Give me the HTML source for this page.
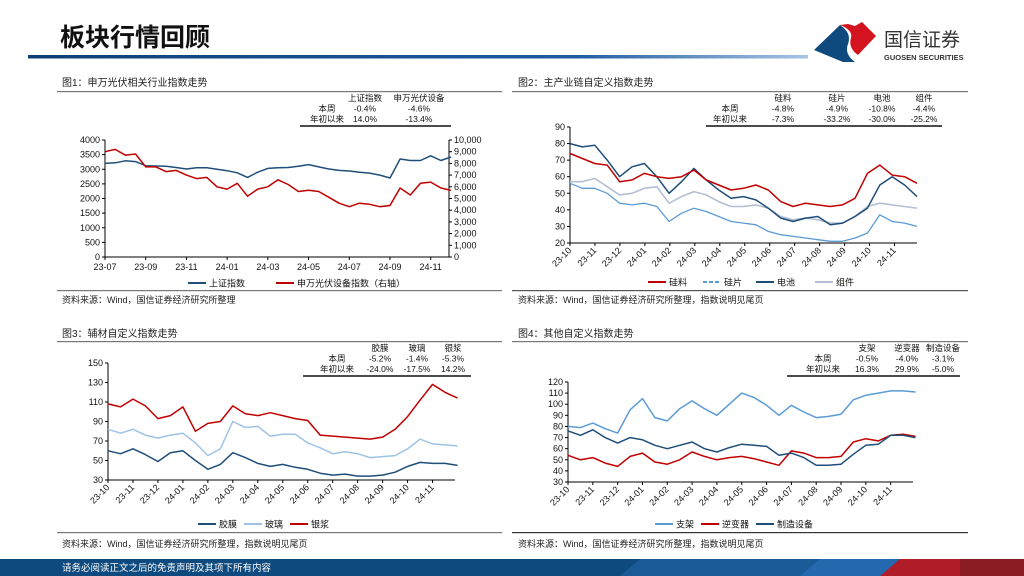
<!DOCTYPE html>
<html><head><meta charset="utf-8"><style>
html,body{margin:0;padding:0;background:#fff;}
svg{display:block;font-family:"Liberation Sans","Noto Sans CJK SC",sans-serif;}
</style></head><body>
<svg id="s" width="1024" height="576" viewBox="0 0 1024 576" xmlns="http://www.w3.org/2000/svg">
<defs>
<linearGradient id="bar" x1="0" x2="1"><stop offset="0" stop-color="#0c3f78"/><stop offset="0.7" stop-color="#1d5aa0"/><stop offset="1" stop-color="#a8c4e4"/></linearGradient>
</defs>
<text x="60" y="46" font-size="25" font-weight="bold" fill="#111">板块行情回顾</text>
<rect x="28" y="55" width="780" height="3.5" fill="url(#bar)"/>
<g>
<path d="M814 50 L840 25 Q852 33 848 44 Q844 54 855 62 L843 62 Z" fill="#0f4a7e"/>
<path d="M840 25 L848 24 L855 26 L862 22 L876 36 L858 55 Q848 48 851 38 Q853 30 840 25 Z" fill="#d3131f"/>
<text x="884" y="46" font-size="19" fill="#333">国信证券</text>
<text x="884" y="60" font-size="7.5" font-weight="bold" fill="#333">GUOSEN SECURITIES</text>
</g>
<text x="62" y="86" font-size="10" fill="#222">图1：申万光伏相关行业指数走势</text>
<text x="518" y="86" font-size="10" fill="#222">图2：主产业链自定义指数走势</text>
<text x="62" y="337" font-size="10" fill="#222">图3：辅材自定义指数走势</text>
<text x="518" y="337" font-size="10" fill="#222">图4：其他自定义指数走势</text>
<rect x="57" y="91" width="445" height="1.2" fill="#777"/>
<rect x="512" y="91" width="456" height="1.2" fill="#777"/>
<rect x="57" y="341" width="445" height="1.2" fill="#777"/>
<rect x="512" y="341" width="456" height="1.2" fill="#777"/>
<rect x="57" y="290" width="445" height="1.2" fill="#777"/>
<rect x="512" y="290" width="456" height="1.2" fill="#555"/>
<rect x="57" y="532" width="445" height="1.2" fill="#777"/>
<rect x="512" y="532" width="456" height="1.2" fill="#333"/>
<text x="62" y="303" font-size="9" fill="#222">资料来源：Wind，国信证券经济研究所整理</text>
<text x="518" y="303" font-size="9" fill="#222">资料来源：Wind，国信证券经济研究所整理，指数说明见尾页</text>
<text x="62" y="547" font-size="9" fill="#222">资料来源：Wind，国信证券经济研究所整理，指数说明见尾页</text>
<text x="518" y="547" font-size="9" fill="#222">资料来源：Wind，国信证券经济研究所整理，指数说明见尾页</text>
<g>
<rect x="0" y="559" width="1024" height="17" fill="#0f4a7e"/>
<path d="M640 559 L850 559 L830 576 L620 576 Z" fill="#1a5a96"/>
<path d="M820 559 L920 559 L900 576 L800 576 Z" fill="#2468b0"/>
<path d="M900 559 L1024 559 L1024 576 L880 576 Z" fill="#b01c28"/>
<path d="M960 559 L1024 559 L1024 576 L960 576 Z" fill="#8c1c24"/>
<text x="62" y="571" font-size="9.5" fill="#fff">请务必阅读正文之后的免责声明及其项下所有内容</text>
</g>
<g id="charts"></g>
</svg>
<script>
// ---------- Chart 1 data ----------
const c1Ticks = ["23-07","23-09","23-11","24-01","24-03","24-05","24-07","24-09","24-11"];
const c1LeftTicks = [0,500,1000,1500,2000,2500,3000,3500,4000];
const c1RightTicks = ["0","1,000","2,000","3,000","4,000","5,000","6,000","7,000","8,000","9,000","10,000"];
const c1SH = [3200,3220,3290,3260,3120,3110,3100,3060,3010,3050,3050,3000,2950,2880,2720,2900,3030,3050,3060,3100,3160,3080,3010,2960,2940,2900,2870,2800,2700,3350,3300,3300,3460,3300,3420];
const c1PV = [9000,9200,8700,8800,7700,7700,7300,7400,7000,6700,6800,6000,5800,6300,5200,5800,6000,6600,6200,5600,5700,5600,5100,4600,4300,4600,4500,4300,4400,5900,5300,6300,6400,5900,5700];
// ---------- Chart 2 data ----------
const c2Ticks = ["23-10","23-11","23-12","24-01","24-02","24-03","24-04","24-05","24-06","24-07","24-08","24-09","24-10","24-11"];
const c2YTicks = [20,30,40,50,60,70,80,90];
const c2Silicon = [74,71,68,67,57,58,62,60,59,60,64,58,55,52,53,55,52,45,42,44,43,42,43,47,62,67,61,60,56];
const c2Wafer = [56,53,53,50,44,43,44,42,33,38,41,39,36,33,32,31,27,25,24,23,22,21,21,23,26,37,33,32,30];
const c2Cell = [80,78,79,70,60,66,68,60,50,57,65,58,52,47,48,46,41,35,33,35,36,31,32,36,41,55,60,55,48];
const c2Module = [57,57,59,54,49,50,53,54,44,48,51,49,45,42,42,43,41,36,34,35,34,32,32,36,42,44,43,42,41];
// ---------- Chart 3 data ----------
const c3YTicks = [30,50,70,90,110,130,150];
const c3Film = [60,57,62,56,49,58,60,50,41,46,58,53,47,44,46,43,41,37,35,36,34,34,35,38,44,48,47,47,45];
const c3Glass = [82,78,82,76,73,76,78,68,55,62,90,84,85,75,77,77,68,63,57,59,57,53,54,55,62,72,67,66,65];
const c3Paste = [108,105,113,106,93,96,105,80,88,90,106,98,96,99,96,93,91,76,75,74,73,72,74,82,95,112,128,120,114];
// ---------- Chart 4 data ----------
const c4YTicks = [30,40,50,60,70,80,90,100,110,120];
const c4Mount = [80,79,83,78,74,95,105,88,85,96,103,96,90,100,110,106,99,90,99,93,88,89,91,104,108,110,112,112,111];
const c4Inverter = [54,50,52,47,44,53,56,48,46,50,57,53,50,52,53,51,48,45,58,56,52,52,53,66,69,67,72,73,71];
const c4Equip = [76,72,77,70,65,70,68,63,60,63,66,60,57,61,64,63,62,54,56,52,45,45,46,55,63,64,72,72,70];

const NS="http://www.w3.org/2000/svg";
const root=document.getElementById('charts');
function el(tag,attrs,parent){const e=document.createElementNS(NS,tag);for(const k in attrs)e.setAttribute(k,attrs[k]);(parent||root).appendChild(e);return e;}
function txt(s,attrs,parent){const e=el('text',attrs,parent);e.textContent=s;return e;}
function linear(d0,d1,r0,r1){return v=>r0+(v-d0)/(d1-d0)*(r1-r0);}

function series(g,vals,xs,ys,color,w,name,dash){
  const x=i=>xs(i*(xs.span/(vals.length-1)));
  let d='';vals.forEach((v,i)=>{d+=(i?'L':'M')+x(i).toFixed(1)+' '+ys(v).toFixed(1);});
  const p=el('path',{d:d,fill:'none',stroke:color,'stroke-width':w,'stroke-linejoin':'round'},g);
  if(dash)p.setAttribute('stroke-dasharray',dash);
  
  
}
function yAxis(g,ticks,ys,x,labels,side){
  el('line',{x1:x,x2:x,y1:ys(ticks[ticks.length-1]),y2:ys(ticks[0]),stroke:'#000','stroke-width':1},g);
  ticks.forEach((t,i)=>{
    const y=ys(t);
    el('line',{x1:side>0?x:x-3,x2:side>0?x+3:x,y1:y,y2:y,stroke:'#000','stroke-width':1},g);
    const lb=txt(labels?labels[i]:String(t),{x:side>0?x+5:x-5,y:y+3,'font-size':9,'text-anchor':side>0?'start':'end',fill:'#111'},g);
    
    
  });
}
function legend(g,items,y){
  items.forEach(it=>{
    el('line',{x1:it[0],x2:it[0]+18,y1:y,y2:y,stroke:it[2],'stroke-width':2,'stroke-dasharray':it[3]||''},g);
    const t=txt(it[1],{x:it[0]+21,y:y+3.5,'font-size':9,fill:'#111'},g);
    
    
  });
}
function table(g,cols,headers,row1,row2,lx,y0,lineX1,lineX2){
  headers.forEach((h,i)=>txt(h,{x:cols[i],y:y0,'font-size':8.5,'text-anchor':'middle',fill:'#111'},g));
  txt('本周',{x:lx,y:y0+10.5,'font-size':8.5,'text-anchor':'middle',fill:'#111'},g);
  txt('年初以来',{x:lx,y:y0+21,'font-size':8.5,'text-anchor':'middle',fill:'#111'},g);
  row1.forEach((h,i)=>txt(h,{x:cols[i],y:y0+10.5,'font-size':8.5,'text-anchor':'middle',fill:'#111'},g));
  row2.forEach((h,i)=>txt(h,{x:cols[i],y:y0+21,'font-size':8.5,'text-anchor':'middle',fill:'#111'},g));
  el('line',{x1:lineX1,x2:lineX2,y1:y0+25,y2:y0+25,stroke:'#333','stroke-width':1.8},g);
}
function monthAxisRot(g,ticks,xs,y,x0,x1){
  el('line',{x1:x0,x2:x1,y1:y,y2:y,stroke:'#000','stroke-width':1},g);
  ticks.forEach((t,i)=>{
    const x=xs(i);
    el('line',{x1:x,x2:x,y1:y,y2:y+3,stroke:'#000'},g);
    const lb=txt(t,{x:x+2,y:y+8,'font-size':9,'text-anchor':'end',fill:'#111',transform:`rotate(-45 ${x+2} ${y+8})`},g);
    
    
  });
}

// ---- Chart 1 ----
{
  const g=el('g',{});
  const x0=105,x1=449;const xs=linear(0,16.9,x0,x1);xs.span=17;
  const yl=linear(0,4000,257,140);const yr=linear(0,10000,257,140);
  table(g,[365,419],['上证指数','申万光伏设备'],['-0.4%','-4.6%'],['14.0%','-13.4%'],327,101,300,451);
  yAxis(g,c1LeftTicks,yl,x0,null,-1);
  yAxis(g,[0,1000,2000,3000,4000,5000,6000,7000,8000,9000,10000],yr,x1,c1RightTicks,1);
  el('line',{x1:x0,x2:x1,y1:257,y2:257,stroke:'#000'},g);
  c1Ticks.forEach((t,i)=>{const x=xs(i*2);el('line',{x1:x,x2:x,y1:257,y2:260,stroke:'#000'},g);
    const lb=txt(t,{x:x,y:270,'font-size':9,'text-anchor':'middle',fill:'#111'},g);
    });
  series(g,c1SH,xs,yl,'#1f4e79',1.5,'series-shanghai-index');
  series(g,c1PV,xs,yr,'#c00000',1.5,'series-pv-equipment');
  legend(g,[[188,'上证指数','#1f4e79'],[276,'申万光伏设备指数（右轴）','#c00000']],283);
}
// ---- Chart 2 ----
{
  const g=el('g',{});
  const x0=570,x1=917;const xs=linear(0,13.9,x0,x1);xs.span=13.9;
  const ys=linear(20,90,243,127);
  table(g,[783,837,882,924],['硅料','硅片','电池','组件'],['-4.8%','-4.9%','-10.8%','-4.4%'],['-7.3%','-33.2%','-30.0%','-25.2%'],730,101,706,942);
  yAxis(g,c2YTicks,ys,x0,null,-1);
  monthAxisRot(g,c2Ticks,xs,243,x0,x1);
  series(g,c2Module,xs,ys,'#b4bfd4',1.6,'series-module');
  series(g,c2Wafer,xs,ys,'#5b9bd5',1.3,'series-wafer');
  series(g,c2Cell,xs,ys,'#1f4e79',1.5,'series-cell');
  series(g,c2Silicon,xs,ys,'#c00000',1.5,'series-polysilicon');
  legend(g,[[648,'硅料','#c00000'],[703,'硅片','#5b9bd5','4 2'],[756,'电池','#1f4e79'],[815,'组件','#b4bfd4']],282);
}
// ---- Chart 3 ----
{
  const g=el('g',{});
  const x0=108,x1=455;const xs=linear(0,13.9,x0,x1);xs.span=14;
  const ys=linear(30,150,480,363);
  table(g,[380,417,453],['胶膜','玻璃','银浆'],['-5.2%','-1.4%','-5.3%'],['-24.0%','-17.5%','14.2%'],337,351,303,471);
  yAxis(g,c3YTicks,ys,x0,null,-1);
  monthAxisRot(g,c2Ticks,xs,480,x0,x1);
  series(g,c3Film,xs,ys,'#1f4e79',1.5,'series-film');
  series(g,c3Glass,xs,ys,'#9dc3e6',1.5,'series-glass');
  series(g,c3Paste,xs,ys,'#c00000',1.5,'series-silver-paste');
  legend(g,[[198,'胶膜','#1f4e79'],[244,'玻璃','#9dc3e6'],[290,'银浆','#c00000']],524);
}
// ---- Chart 4 ----
{
  const g=el('g',{});
  const x0=568,x1=913;const xs=linear(0,13.9,x0,x1);xs.span=14;
  const ys=linear(30,120,482,382);
  table(g,[867,907,943],['支架','逆变器','制造设备'],['-0.5%','-4.0%','-3.1%'],['16.3%','29.9%','-5.0%'],823,351,787,960);
  yAxis(g,c4YTicks,ys,x0,null,-1);
  monthAxisRot(g,c2Ticks,xs,482,x0,x1);
  series(g,c4Mount,xs,ys,'#5b9bd5',1.5,'series-mount');
  series(g,c4Inverter,xs,ys,'#c00000',1.5,'series-inverter');
  series(g,c4Equip,xs,ys,'#1f4e79',1.5,'series-equipment');
  legend(g,[[655,'支架','#5b9bd5'],[701,'逆变器','#c00000'],[756,'制造设备','#1f4e79']],524);
}
</script>
</body></html>
